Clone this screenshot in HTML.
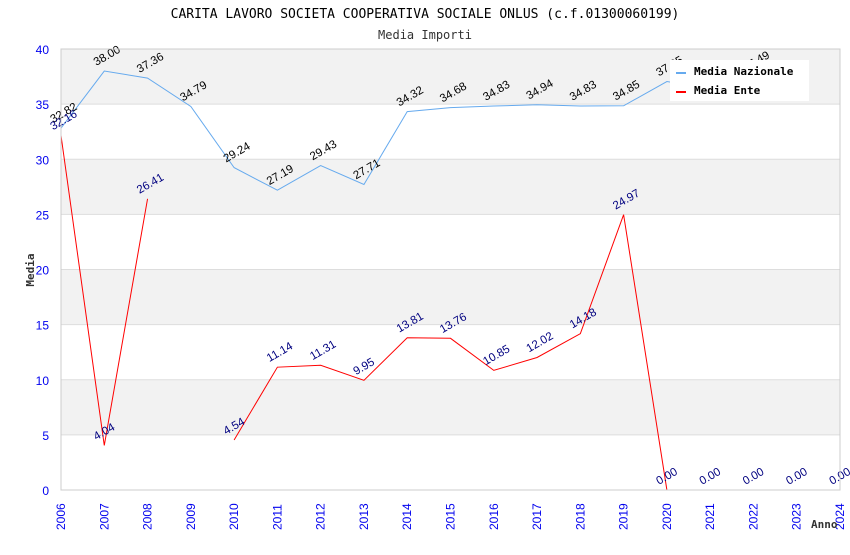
<!DOCTYPE html>
<html><head><meta charset="utf-8"><style>
body{margin:0;background:#fff;width:850px;height:550px;overflow:hidden}
svg{font-family:"DejaVu Sans Mono","Liberation Mono",monospace}
</style></head><body>
<svg id="c" width="850" height="550"></svg>
<script>
const years=[2006,2007,2008,2009,2010,2011,2012,2013,2014,2015,2016,2017,2018,2019,2020,2021,2022,2023,2024];
const nazionale=[32.82,38.00,37.36,34.79,29.24,27.19,29.43,27.71,34.32,34.68,34.83,34.94,34.83,34.85,37.05,36.4,37.49,null,null];
const ente=[32.16,4.04,26.41,null,4.54,11.14,11.31,9.95,13.81,13.76,10.85,12.02,14.18,24.97,0,0,0,0,0];
const yTicks=[0,5,10,15,20,25,30,35,40];
const NS='http://www.w3.org/2000/svg';
const svg=document.getElementById('c');
const L=61,R=840,T=49,B=490;
const x=i=>L+(R-L)*i/(years.length-1);
const y=v=>B-(B-T)*v/40;
function el(t,a,p){const e=document.createElementNS(NS,t);for(const k in a)e.setAttribute(k,a[k]);(p||svg).appendChild(e);return e;}
for(let k=0;k<yTicks.length-1;k++){
 const b=el('rect',{x:L,y:y(yTicks[k+1]),width:R-L,height:y(yTicks[k])-y(yTicks[k+1]),fill:(k%2==1)?'#f2f2f2':'#fff'});
 
 const g=el('line',{x1:L,x2:R,y1:y(yTicks[k]),y2:y(yTicks[k]),stroke:'#ddd'});
 
}
yTicks.forEach(v=>{const t=el('text',{x:L-12,y:y(v)+5,'text-anchor':'end','font-size':12,fill:'#0000ee','font-family':'Liberation Sans,sans-serif'});t.textContent=v;
});
years.forEach((yr,i)=>{const t=el('text',{transform:`translate(${x(i)+4},${B+40}) rotate(-90)`,'font-size':12,fill:'#0000ee','font-family':'Liberation Sans,sans-serif'});t.textContent=yr;
});
function series(vals,color,lblColor,name,stopAt){
 let d='',pen=false;
 vals.forEach((v,i)=>{if(v===null||i>stopAt){pen=false;return;}d+=(pen?'L':'M')+x(i)+' '+y(v)+' ';pen=true;});
 const p=el('path',{d,fill:'none',stroke:color,'stroke-width':1});
 
 vals.forEach((v,i)=>{if(v===null)return;const t=el('text',{transform:`translate(${x(i)-8},${y(v)-5}) rotate(-30)`,'font-size':11.5,fill:lblColor,'font-family':'Liberation Sans,sans-serif'});t.textContent=v.toFixed(2);
 });
}
series(nazionale,'#66aaee','#000','nazionale',99);
series(ente,'#ff0000','#000080','ente',14);
const fr=el('rect',{x:L,y:T,width:R-L,height:B-T,fill:'none',stroke:'#ccc'});

const lg=el('g',{});
el('rect',{x:670,y:60,width:139,height:41,fill:'#fff'},lg);
el('line',{x1:676,x2:686,y1:73,y2:73,stroke:'#66aaee','stroke-width':2},lg);
el('line',{x1:676,x2:686,y1:92,y2:92,stroke:'#ff0000','stroke-width':2},lg);
let t=el('text',{x:694,y:75,'font-size':11,'font-weight':'bold'},lg);t.textContent='Media Nazionale';

t=el('text',{x:694,y:94,'font-size':11,'font-weight':'bold'},lg);t.textContent='Media Ente';

t=el('text',{x:425,y:18,'text-anchor':'middle','font-size':13,fill:'#000'});t.textContent='CARITA LAVORO SOCIETA COOPERATIVA SOCIALE ONLUS (c.f.01300060199)';

t=el('text',{x:425,y:39,'text-anchor':'middle','font-size':12,fill:'#333'});t.textContent='Media Importi';

t=el('text',{transform:'translate(34,270) rotate(-90)','text-anchor':'middle','font-size':11,'font-weight':'bold',fill:'#333'});t.textContent='Media';

t=el('text',{x:811,y:528,'font-size':11,'font-weight':'bold',fill:'#333'});t.textContent='Anno';

</script>
</body></html>
